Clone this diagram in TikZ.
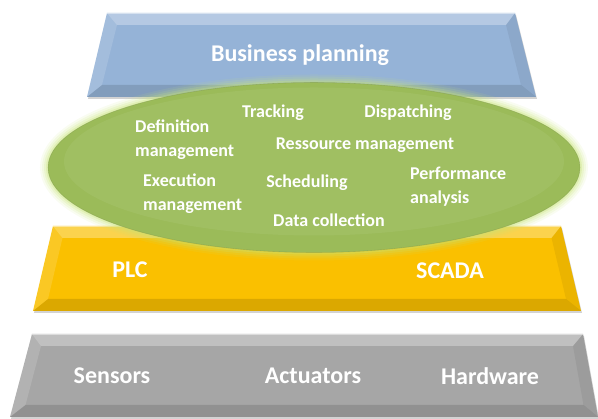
\documentclass[tikz,border=0pt]{standalone}
\usepackage{fontspec}
\setmainfont{Carlito}
\usepackage{tikz}
\usetikzlibrary{backgrounds,positioning,shadows}
\tikzstyle{every picture}+=[font=\bfseries]

\definecolor{bluelayer}{RGB}{149,179,215}
\definecolor{greenlayer}{RGB}{155,187,89}
\definecolor{yellowlayer}{RGB}{250,192,0}
\definecolor{graylayer}{RGB}{166,166,166}
\definecolor{glowgreen}{RGB}{200,228,120}

% bevelled slab from the corners #1tl #1tr #1br #1bl and the inner ones #1itl ...
\newcommand{\bevelslab}[2]{%
	\fill [#2, drop shadow={opacity=.35, shadow xshift=1pt, shadow yshift=-2pt}]
		(#1tl) -- (#1tr) -- (#1br) -- (#1bl) -- cycle;
	\fill [white, opacity=.30]	(#1tl) -- (#1tr) -- (#1itr) -- (#1itl) -- cycle;
	\fill [white, opacity=.14]	(#1tl) -- (#1itl) -- (#1ibl) -- (#1bl) -- cycle;
	\fill [black, opacity=.06]	(#1tr) -- (#1br) -- (#1ibr) -- (#1itr) -- cycle;
	\fill [black, opacity=.12]	(#1bl) -- (#1ibl) -- (#1ibr) -- (#1br) -- cycle;
	\draw [white, opacity=.45, line width=.6pt] (#1tl) -- (#1tr);
}

\begin{document}
\begin{tikzpicture}
			[x=1pt, y=1pt, inner sep=0pt,
			label/.style		= {white, align=left, font=\fontsize{18}{24}\selectfont\bfseries},
			biglabel/.style		= {white, font=\fontsize{24}{28}\selectfont\bfseries}]

			\useasboundingbox (0,0) rectangle (598,419);

			% hardware layer
			\coordinate (htl) at (32,85);		\coordinate (htr) at (583,85);
			\coordinate (hbr) at (598,2);		\coordinate (hbl) at (10,2);
			\coordinate (hitl) at (41,73);		\coordinate (hitr) at (573,73);
			\coordinate (hibr) at (583.5,14);	\coordinate (hibl) at (25.5,14);
			\bevelslab{h}{graylayer}

			% control layer
			\coordinate (ctl) at (53,193);		\coordinate (ctr) at (561,193);
			\coordinate (cbr) at (581,108);		\coordinate (cbl) at (33,108);
			\coordinate (citl) at (62.5,181);	\coordinate (citr) at (551.5,181);
			\coordinate (cibr) at (566,120);	\coordinate (cibl) at (48,120);
			\bevelslab{c}{yellowlayer}

			% business layer
			\coordinate (btl) at (107,406);		\coordinate (btr) at (515,406);
			\coordinate (bbr) at (536,322);		\coordinate (bbl) at (87,322);
			\coordinate (bitl) at (117,394);	\coordinate (bitr) at (506,394);
			\coordinate (bibr) at (521,334);	\coordinate (bibl) at (102,334);
			\bevelslab{b}{bluelayer}

			% MES ellipse
			\coordinate (mes) at (314,251.5);
			\foreach \w/\o in {16/.10, 12/.14, 8/.20, 4/.30}
				\draw [glowgreen, line width=\w pt, opacity=\o] (mes) ellipse [x radius=266pt, y radius=85pt];
			\fill [greenlayer] (mes) ellipse [x radius=266pt, y radius=85pt];
			\fill [white, opacity=.06] ([yshift=6pt]mes) ellipse [x radius=250pt, y radius=74pt];
			\draw [greenlayer!75!black, opacity=.35, line width=.6pt] (mes) ellipse [x radius=266pt, y radius=85pt];

			\node [biglabel]	at (300,364)			(business)	{Business planning};

			\node [label]		at (273,306)			(tracking)	{Tracking};
			\node [label]		at (408,306)			(dispatch)	{Dispatching};
			\node [label, anchor=west] at (135,279)	(definition) {Definition\\management};
			\node [label]		at (365,274)			(ressource)	{Ressource management};
			\node [label, anchor=west] at (143,225)	(execution) {Execution\\management};
			\node [label]		at (307,236)			(scheduling) {Scheduling};
			\node [label, anchor=west] at (410,232.5) (performance) {Performance\\analysis};
			\node [label]		at (329,199)			(datacoll)	{Data collection};

			\node [biglabel]	at (130,149)			(plc)		{PLC};
			\node [biglabel]	at (450,148)			(scada)		{SCADA};

			\node [biglabel]	at (112,43)				(sensors)	{Sensors};
			\node [biglabel]	at (313,43)				(actuators)	{Actuators};
			\node [biglabel]	at (490,43)				(hardware)	{Hardware};
\end{tikzpicture}
\end{document}
